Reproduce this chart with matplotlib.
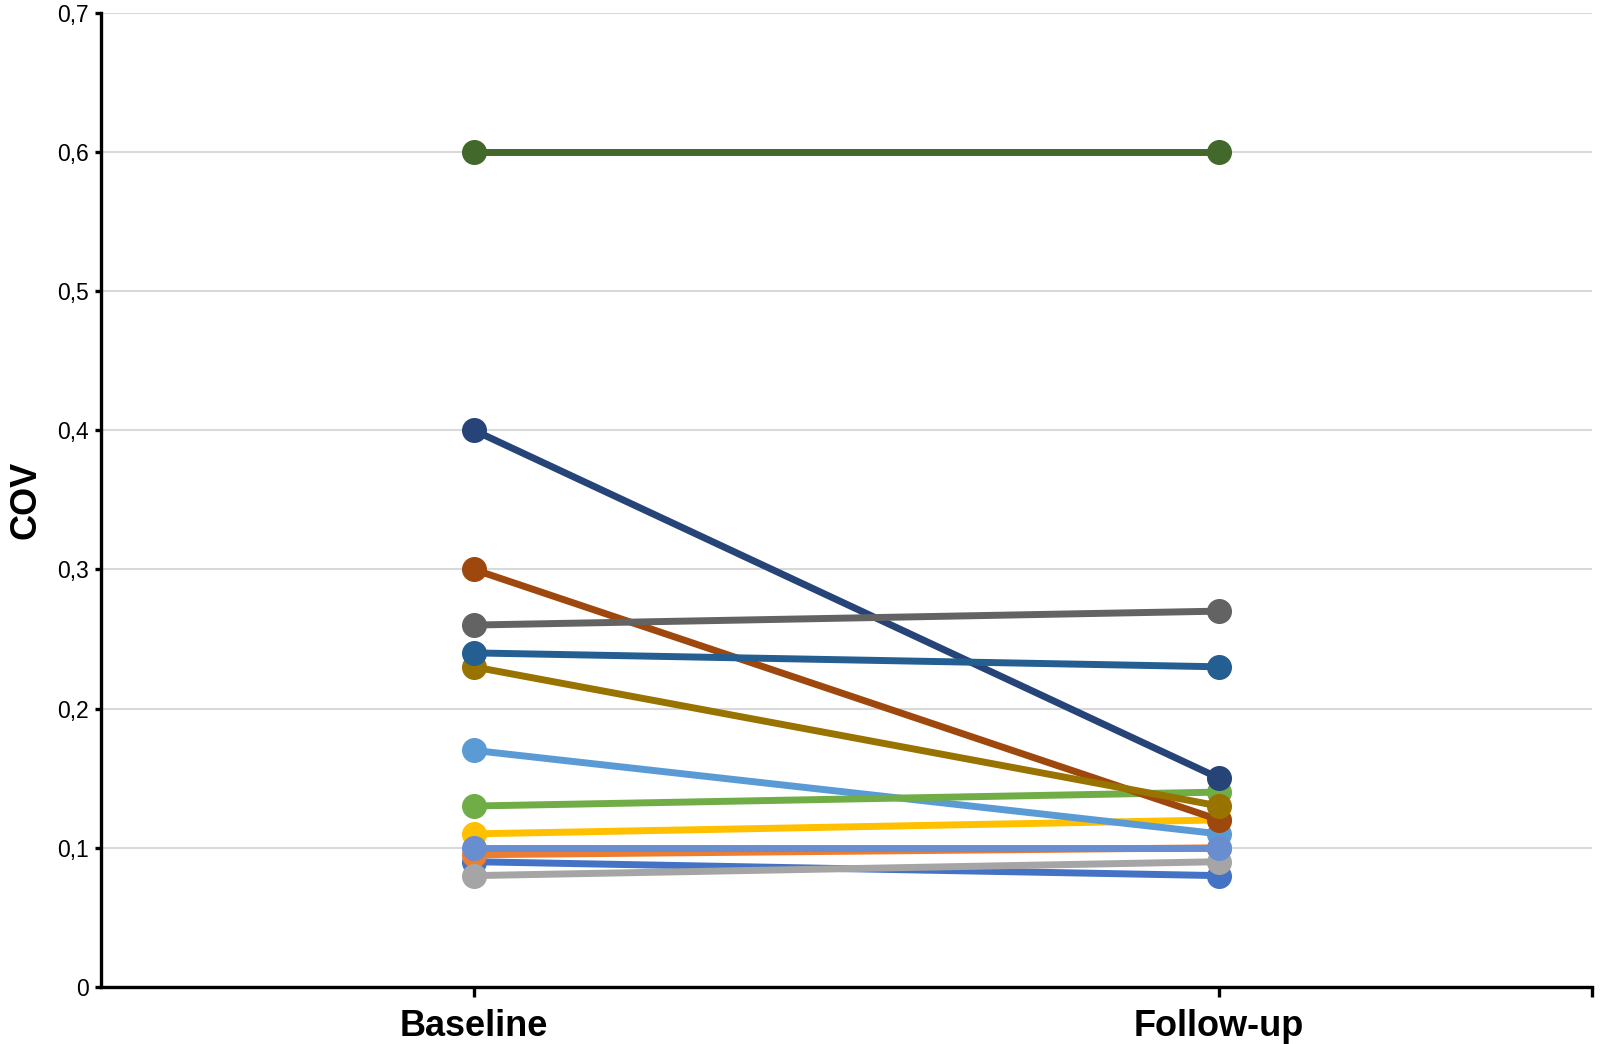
import matplotlib.pyplot as plt
import matplotlib.ticker as mticker

plt.rcParams['font.family'] = ['Liberation Sans', 'DejaVu Sans']

categories = ["Baseline", "Follow-up"]

# (baseline, follow-up) per subject, in drawing order
series = [
    ([0.09, 0.08], "#4472C4"),
    ([0.095, 0.10], "#ED7D31"),
    ([0.08, 0.09], "#A5A5A5"),
    ([0.11, 0.12], "#FFC000"),
    ([0.17, 0.11], "#5B9BD5"),
    ([0.13, 0.14], "#70AD47"),
    ([0.40, 0.15], "#264478"),
    ([0.30, 0.12], "#9E480E"),
    ([0.26, 0.27], "#636363"),
    ([0.23, 0.13], "#997300"),
    ([0.24, 0.23], "#255E91"),
    ([0.60, 0.60], "#43682B"),
    ([0.10, 0.10], "#698ED0"),
]

fig = plt.figure(figsize=(16, 10.44), dpi=100)
ax = fig.add_axes([0.063, 0.0546, 0.932, 0.9334])

x = [0.5, 1.5]
for vals, color in series:
    ax.plot(x, vals, color=color, linewidth=5, marker="o", markersize=17,
            solid_capstyle="round", zorder=3)

ax.set_xlim(0, 2)
ax.set_ylim(0, 0.7)
ax.set_yticks([i / 10 for i in range(8)])
ax.yaxis.set_major_formatter(mticker.FuncFormatter(
    lambda v, _: "0" if abs(v) < 1e-9 else f"{v:.1f}".replace(".", ",")
))
ax.set_xticks(x + [2])
ax.set_xticklabels(categories + [""], fontsize=26, fontweight="bold")
ax.tick_params(axis="x", length=7, width=2.4, pad=9)
ax.tick_params(axis="y", length=4.5, width=2.4, labelsize=16.5, pad=4)

ax.grid(True, axis="y", color="#D9D9D9", linewidth=1.5, zorder=0)
ax.set_axisbelow(True)

for side in ["top", "right"]:
    ax.spines[side].set_visible(False)
for side in ["left", "bottom"]:
    ax.spines[side].set_linewidth(2.4)

ax.set_ylabel("COV", fontsize=26, fontweight="bold", labelpad=10)

fig.savefig("out.png", dpi=100)
